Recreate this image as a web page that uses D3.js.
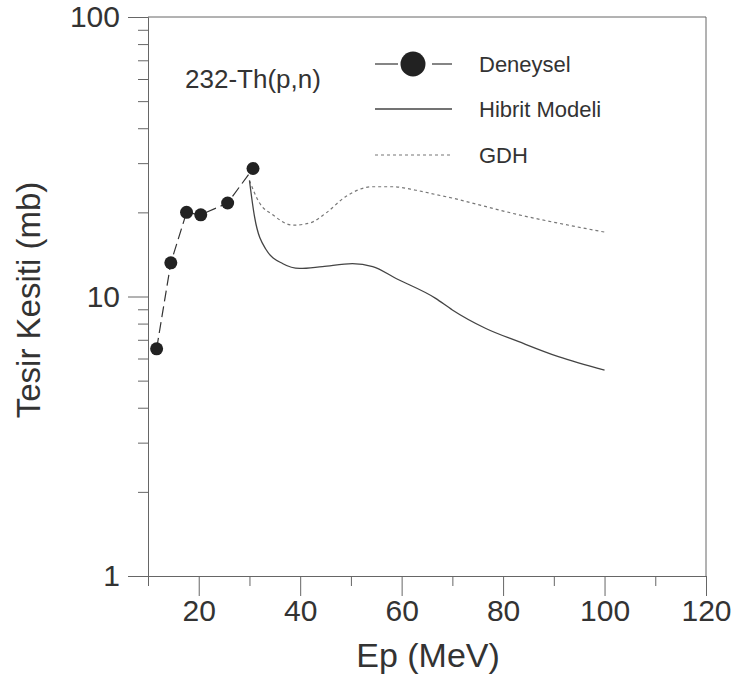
<!DOCTYPE html>
<html>
<head>
<meta charset="utf-8">
<script src="https://cdn.jsdelivr.net/npm/d3@7"></script>
<style>
body { margin: 0; background: #fff; }
text { font-family: Arial, "Liberation Sans", sans-serif; fill: #333; }
</style>
</head>
<body>
<div id="chart"></div>
<script>
// deneysel (experimental) points
var expE     = [11.7, 14.5, 17.6, 20.4, 25.7, 30.7];
var expSigma = [6.5, 13.2, 20.0, 19.6, 21.6, 28.7];

// hibrit model curve
var hibritE     = [30, 31, 33.3, 36.6, 39.9, 44.4, 50.3, 54.3, 58.9, 66.7, 70, 76.5, 83.1, 90.9, 100];
var hibritSigma = [26, 19.3, 14.7, 13.1, 12.6, 12.8, 13.1, 12.8, 11.6, 9.85, 8.95, 7.7, 6.89, 6.09, 5.45];

// GDH curve
var gdhE     = [30, 32, 34.6, 38.5, 41.8, 45.1, 49, 54.3, 58.2, 62.8, 67, 70, 76.5, 83.1, 89.6, 100];
var gdhSigma = [26, 21.6, 19.6, 18.0, 18.3, 19.9, 22.8, 24.7, 24.7, 24.0, 23.1, 22.5, 21.0, 19.6, 18.5, 17.0];

var xTicks = [20, 40, 60, 80, 100, 120];
var xMinor = [10, 30, 50, 70, 90, 110];
var yTicks = [1, 10, 100];
var legendNames = ['Deneysel', 'Hibrit Modeli', 'GDH'];
var title = '232-Th(p,n)';

var margin = {top: 17, right: 28, bottom: 104, left: 148};
var width  = 734 - margin.left - margin.right;
var height = 680 - margin.top - margin.bottom;

var svg = d3.select('#chart').append('svg')
	.attr('width', 734)
	.attr('height', 680);

var g = svg.append('g')
	.attr('transform', 'translate(' + margin.left + ',' + margin.top + ')');

var x = d3.scaleLinear().domain([10, 120]).range([0, width]);
var y = d3.scaleLog().domain([1, 100]).range([height, 0]);

// minor y ticks 2..9, 20..90
var yMinor = [];
[1, 10].forEach(function(d) {
	for (var k = 2; k <= 9; k++) yMinor.push(d * k);
});

// frame (top + right)
g.append('path')
	.attr('d', 'M0,0H' + width + 'V' + height)
	.attr('fill', 'none')
	.attr('stroke', '#666')
	.attr('stroke-width', 1);

// x axis
g.append('g')
	.attr('transform', 'translate(0,' + height + ')')
	.call(d3.axisBottom(x).tickValues(xTicks).tickSize(20).tickPadding(4).tickSizeOuter(0));
g.append('g')
	.attr('transform', 'translate(0,' + height + ')')
	.call(d3.axisBottom(x).tickValues(xMinor).tickSize(10).tickFormat('').tickSizeOuter(0));

// y axis
g.append('g')
	.call(d3.axisLeft(y).tickValues(yTicks).tickSize(20).tickPadding(8).tickFormat(d3.format('d')).tickSizeOuter(0));
g.append('g')
	.call(d3.axisLeft(y).tickValues(yMinor).tickSize(10).tickFormat('').tickSizeOuter(0));

g.selectAll('.domain').attr('stroke', '#666');
g.selectAll('.tick line').attr('stroke', '#666');
g.selectAll('.tick text')
	.style('font-size', '30px')
	.style('font-family', 'Arial, "Liberation Sans", sans-serif')
	.attr('fill', '#333');

// axis titles
svg.append('text')
	.attr('x', 428)
	.attr('y', 667)
	.attr('text-anchor', 'middle')
	.style('font-size', '34px')
	.text('Ep (MeV)');

svg.append('text')
	.attr('transform', 'translate(40,300) rotate(-90)')
	.attr('text-anchor', 'middle')
	.style('font-size', '33px')
	.text('Tesir Kesiti (mb)');

// curves
var lineFn = function(xs, ys) {
	return d3.line()
		.x(function(d, i) { return x(xs[i]); })
		.y(function(d, i) { return y(ys[i]); })
		.curve(d3.curveMonotoneX)(xs);
};

g.append('path')
	.attr('d', lineFn(gdhE, gdhSigma))
	.attr('fill', 'none')
	.attr('stroke', '#777')
	.attr('stroke-width', 1.2)
	.attr('stroke-dasharray', '3,3');

g.append('path')
	.attr('d', lineFn(hibritE, hibritSigma))
	.attr('fill', 'none')
	.attr('stroke', '#444')
	.attr('stroke-width', 1.3);

g.append('path')
	.attr('d', d3.line()
		.x(function(d, i) { return x(expE[i]); })
		.y(function(d, i) { return y(expSigma[i]); })(expE))
	.attr('fill', 'none')
	.attr('stroke', '#333')
	.attr('stroke-width', 1.2)
	.attr('stroke-dasharray', '11,5');

g.selectAll('circle.exp')
	.data(expE)
	.enter().append('circle')
		.classed('exp', true)
		.attr('cx', function(d) { return x(d); })
		.attr('cy', function(d, i) { return y(expSigma[i]); })
		.attr('r', 6.5)
		.attr('fill', '#222');

// title
svg.append('text')
	.attr('x', 185)
	.attr('y', 88)
	.style('font-size', '26px')
	.text(title);

// legend
var lx0 = 375, lx1 = 452, tx = 479;
var ly = [64, 109, 155];
var lc = 413;

svg.append('line')
	.attr('x1', lx0).attr('x2', lc - 15).attr('y1', ly[0]).attr('y2', ly[0])
	.attr('stroke', '#333').attr('stroke-width', 1.2);
svg.append('line')
	.attr('x1', lc + 19).attr('x2', lx1).attr('y1', ly[0]).attr('y2', ly[0])
	.attr('stroke', '#333').attr('stroke-width', 1.2);
svg.append('circle')
	.attr('cx', lc).attr('cy', ly[0]).attr('r', 12.5)
	.attr('fill', '#222');
svg.append('line')
	.attr('x1', lx0).attr('x2', lx1).attr('y1', ly[1]).attr('y2', ly[1])
	.attr('stroke', '#444').attr('stroke-width', 1.3);
svg.append('line')
	.attr('x1', lx0).attr('x2', lx1).attr('y1', ly[2]).attr('y2', ly[2])
	.attr('stroke', '#777').attr('stroke-width', 1.2).attr('stroke-dasharray', '3,3');

svg.selectAll('text.leg')
	.data(legendNames)
	.enter().append('text')
		.classed('leg', true)
		.attr('x', tx)
		.attr('y', function(d, i) { return ly[i] + 8; })
		.style('font-size', '22px')
		.text(function(d) { return d; });
</script>
</body>
</html>
